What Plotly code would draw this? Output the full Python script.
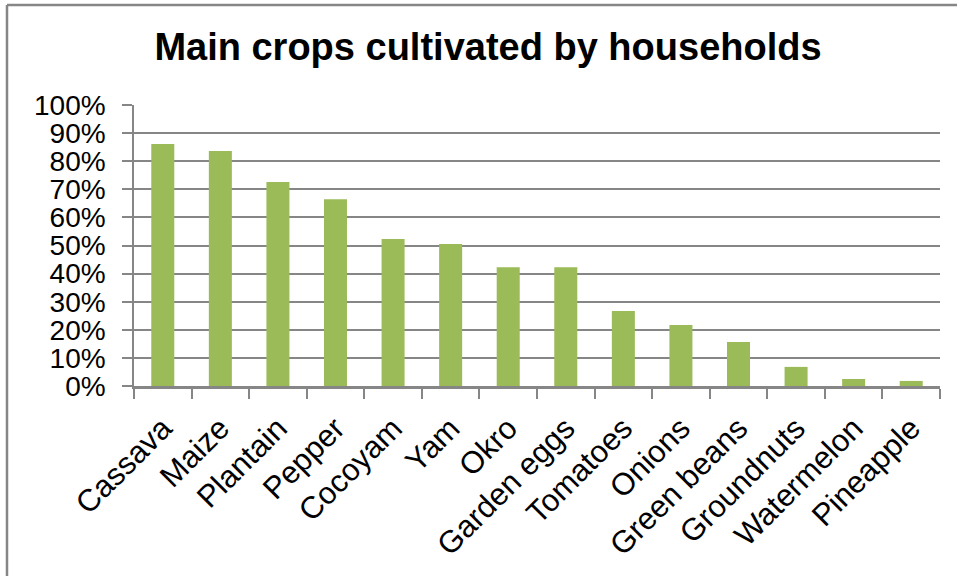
import plotly.graph_objects as go

crops = ["Cassava", "Maize", "Plantain", "Pepper", "Cocoyam", "Yam", "Okro",
         "Garden eggs", "Tomatoes", "Onions", "Green beans", "Groundnuts",
         "Watermelon", "Pineapple"]
share = [0.861, 0.836, 0.726, 0.665, 0.523, 0.505, 0.423, 0.423, 0.267,
         0.217, 0.157, 0.068, 0.025, 0.018]
y_ticks = [i / 10 for i in range(11)]
y_labels = [f"{i * 10}%" for i in range(11)]

W, H = 957, 576
ML, MR, MT, MB = 134, 17, 105, 190
FONT = "Liberation Sans, Arial, sans-serif"
GRID = "#868686"

fig = go.Figure(go.Bar(x=crops, y=share, marker_color="#9BBB59",
                       marker_line_width=0))

# chart-area frame: left and top edges
pw, ph = W - ML - MR, H - MT - MB
def px_x(v): return (v - ML) / pw
def px_y(v): return (H - MB - v) / ph
fig.add_shape(type="line", xref="paper", yref="paper",
              x0=px_x(7), x1=px_x(7), y0=px_y(5), y1=px_y(H + 10),
              line=dict(color=GRID, width=2.5))
fig.add_shape(type="line", xref="paper", yref="paper",
              x0=px_x(7), x1=px_x(W + 10), y0=px_y(5), y1=px_y(5),
              line=dict(color=GRID, width=2.5))

fig.update_layout(
    width=W, height=H,
    margin=dict(l=ML, r=MR, t=MT, b=MB),
    paper_bgcolor="white", plot_bgcolor="white",
    bargap=0.6,
    showlegend=False,
    title=dict(text="<b>Main crops cultivated by households</b>",
               x=488 / W, xanchor="center", xref="container",
               y=1 - 47 / H, yanchor="middle", yref="container",
               font=dict(family=FONT, size=38, color="black")),
    xaxis=dict(tickangle=-45, tickfont=dict(family=FONT, size=31, color="black"),
               ticks="outside", tickson="boundaries", ticklen=10,
               tickcolor=GRID, tickwidth=1.5, ticklabelstandoff=9,
               showline=True, linecolor=GRID, linewidth=2.5,
               showgrid=False),
    yaxis=dict(range=[0, 1], tickvals=y_ticks, ticktext=y_labels,
               tickfont=dict(family=FONT, size=28, color="black"),
               ticks="outside", ticklen=10, tickcolor=GRID, tickwidth=1.5,
               ticklabelstandoff=11,
               showline=True, linecolor=GRID, linewidth=1.5,
               showgrid=True, gridcolor=GRID, gridwidth=1.5,
               zeroline=False),
)

fig.write_html("out.html")
